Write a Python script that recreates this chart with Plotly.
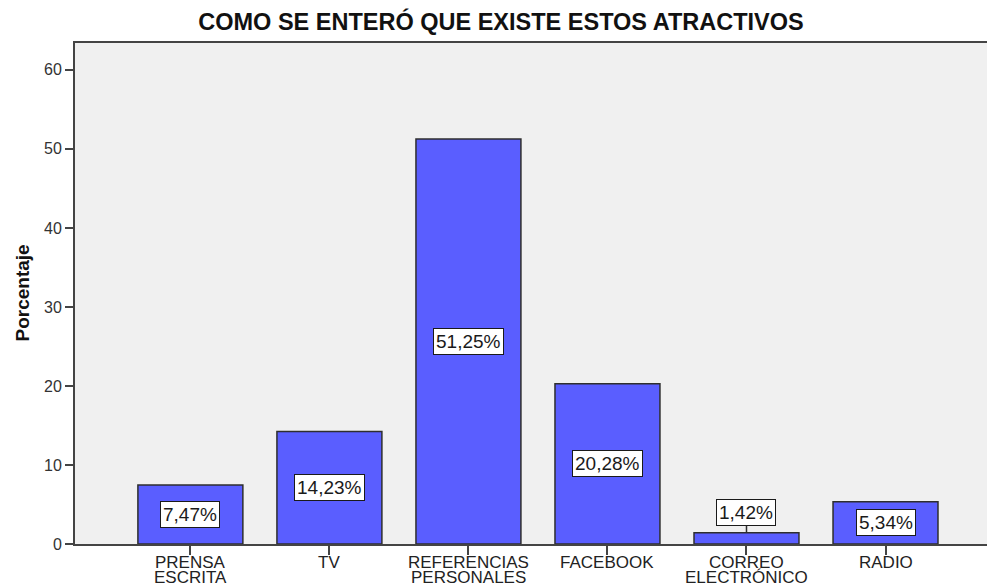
import plotly.graph_objects as go

# Survey: how respondents learned about the attractions (percent)
categories = [
    ("PRENSA", "ESCRITA"),
    ("TV", ""),
    ("REFERENCIAS", "PERSONALES"),
    ("FACEBOOK", ""),
    ("CORREO", "ELECTRÓNICO"),
    ("RADIO", ""),
]
percentages = [7.47, 14.23, 51.25, 20.28, 1.42, 5.34]
y_ticks = [0, 10, 20, 30, 40, 50, 60]

title_text = "COMO SE ENTERÓ QUE EXISTE ESTOS ATRACTIVOS"
y_title = "Porcentaje"

FONT = "Liberation Sans, Arial, sans-serif"
BAR_COLOR = "#5a5eff"
EDGE = "#2e2e2e"
AXIS = "#444444"

W, H = 987, 586
L, R, T, B = 75, 0, 43, 42
plot_h = H - T - B
y_max = 63.4
px_per_unit = plot_h / y_max

xs = list(range(len(categories)))

fig = go.Figure(
    go.Bar(
        x=xs,
        y=percentages,
        width=0.755,
        marker=dict(color=BAR_COLOR, line=dict(color=EDGE, width=1.5)),
        hoverinfo="skip",
    )
)

annotations = []

# value boxes: centred inside the bar, or above it when the bar is too short
for x, v in zip(xs, percentages):
    label = f"{v:.2f}".replace(".", ",") + "%"
    box = dict(
        text=label,
        font=dict(family=FONT, size=19, color="#1a1a1a"),
        bgcolor="white",
        bordercolor="#1a1a1a",
        borderwidth=1,
        borderpad=2,
        xref="x",
        yref="y",
    )
    if v * px_per_unit > 34:
        box.update(x=x, y=v / 2, showarrow=False)
    else:
        box.update(
            x=x, y=v, showarrow=True, ax=0, ay=-20,
            arrowhead=0, arrowwidth=1.5, arrowcolor=EDGE, standoff=0,
        )
    annotations.append(box)

# two-line category labels under the x axis, set tightly like the original
for x, (line1, line2) in zip(xs, categories):
    for text, shift in ((line1, -18.5), (line2, -33.5)):
        if not text:
            continue
        annotations.append(dict(
            text=text, x=x, y=0, xref="x", yref="paper",
            yanchor="middle", yshift=shift, showarrow=False,
            font=dict(family=FONT, size=17, color="#222222"),
        ))

# rotated y axis title
annotations.append(dict(
    text=f"<b>{y_title}</b>", textangle=-90,
    x=(22 - L) / (W - L - R), y=0.5, xref="paper", yref="paper",
    xanchor="center", yanchor="middle", showarrow=False,
    font=dict(family=FONT, size=19, color="#111111"),
))

fig.update_layout(
    width=W,
    height=H,
    margin=dict(l=L, r=R, t=T, b=B, pad=0),
    paper_bgcolor="white",
    plot_bgcolor="#f0f0f0",
    showlegend=False,
    title=dict(
        text=f"<b>{title_text}</b>",
        x=501 / W, xref="container", xanchor="center",
        y=1 - 22 / H, yref="container", yanchor="middle",
        font=dict(family=FONT, size=23.5, color="#111111"),
    ),
    xaxis=dict(
        range=[-0.83, 5.73],
        tickvals=xs,
        ticktext=["" for _ in xs],
        ticks="outside",
        ticklen=9,
        tickwidth=2,
        tickcolor=AXIS,
        showline=True,
        linecolor=AXIS,
        linewidth=2,
        mirror=True,
        showgrid=False,
        zeroline=False,
        fixedrange=True,
    ),
    yaxis=dict(
        range=[0, y_max],
        tickvals=y_ticks,
        ticks="outside",
        ticklen=8,
        tickwidth=2,
        tickcolor=AXIS,
        tickfont=dict(family=FONT, size=16, color="#333333"),
        showline=True,
        linecolor=AXIS,
        linewidth=2,
        showgrid=False,
        zeroline=False,
        fixedrange=True,
    ),
    annotations=annotations,
)

fig.write_html("out.html", config={"displayModeBar": False})
